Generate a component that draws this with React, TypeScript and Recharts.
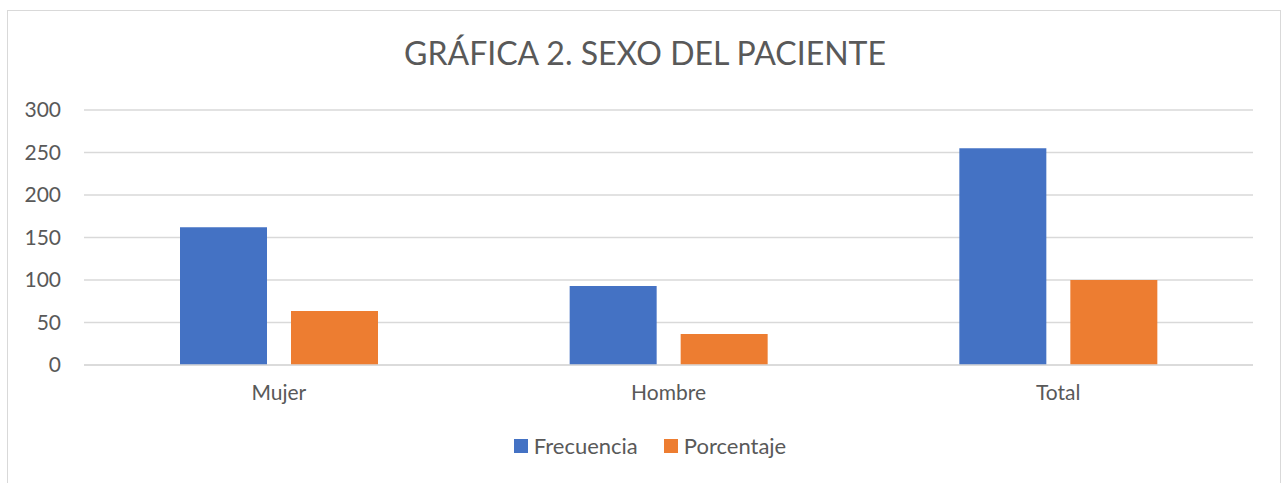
import { BarChart, Bar, XAxis, YAxis, CartesianGrid } from 'recharts';

const categories = ['Mujer', 'Hombre', 'Total'];
const frecuencia = [162, 93, 255];
const porcentaje = [63.5, 36.5, 100];
const yTicks = [0, 50, 100, 150, 200, 250, 300];

const data = categories.map((name, i) => ({
    name,
    Frecuencia: frecuencia[i],
    Porcentaje: porcentaje[i],
}));

const FONT = 'Lato, Carlito, "Open Sans", sans-serif';
const TEXT = '#595959';
const BLUE = '#4472c4';
const ORANGE = '#ed7d31';

function LegendContent() {
    const items = [
        { label: 'Frecuencia', color: BLUE },
        { label: 'Porcentaje', color: ORANGE },
    ];
    return (
        <div style={{ display: 'flex', justifyContent: 'center', gap: 26, fontFamily: FONT, fontSize: 22, color: TEXT }}>
            {items.map((it) => (
                <div key={it.label} style={{ display: 'flex', alignItems: 'center' }}>
                    <span style={{ width: 14, height: 14, background: it.color, display: 'inline-block', marginRight: 6 }} />
                    <span>{it.label}</span>
                </div>
            ))}
        </div>
    );
}

export default function App() {
    return (
        <div style={{ position: 'absolute', left: 0, top: 0, width: 1285, height: 483, background: '#fff', overflow: 'hidden' }}>
            <div
                style={{
                    position: 'absolute',
                    left: 7,
                    top: 10,
                    width: 1274,
                    height: 490,
                    border: '1.5px solid #d9d9d9',
                    boxSizing: 'border-box',
                }}
            />
            <div
                style={{
                    position: 'absolute',
                    left: 0,
                    top: 33,
                    width: 1290,
                    textAlign: 'center',
                    fontFamily: FONT,
                    fontSize: 32,
                    color: TEXT,
                }}
            >
                GRÁFICA 2. SEXO DEL PACIENTE
            </div>
            <div style={{ position: 'absolute', left: 0, top: 0 }}>
                <BarChart
                    width={1285}
                    height={483}
                    data={data}
                    margin={{ top: 110, right: 32, left: 0, bottom: 0 }}
                    barCategoryGap={96}
                    barGap={24}
                >
                    <CartesianGrid vertical={false} stroke="#d9d9d9" strokeWidth={1.5} />
                    <XAxis
                        dataKey="name"
                        height={118}
                        axisLine={{ stroke: '#d9d9d9', strokeWidth: 1.5 }}
                        tickLine={false}
                        tickSize={0}
                        tickMargin={20}
                        tick={{ fill: TEXT, fontSize: 21, fontFamily: FONT }}
                    />
                    <YAxis
                        width={84}
                        domain={[0, 300]}
                        ticks={yTicks}
                        axisLine={false}
                        tickLine={false}
                        tickSize={0}
                        tickMargin={23}
                        tick={{ fill: TEXT, fontSize: 21, fontFamily: FONT }}
                    />
                    <Bar dataKey="Frecuencia" fill={BLUE} isAnimationActive={false} />
                    <Bar dataKey="Porcentaje" fill={ORANGE} isAnimationActive={false} />
                </BarChart>
            </div>
            <div style={{ position: 'absolute', top: 432, left: 0, width: 1300 }}>
                <LegendContent />
            </div>
        </div>
    );
}
